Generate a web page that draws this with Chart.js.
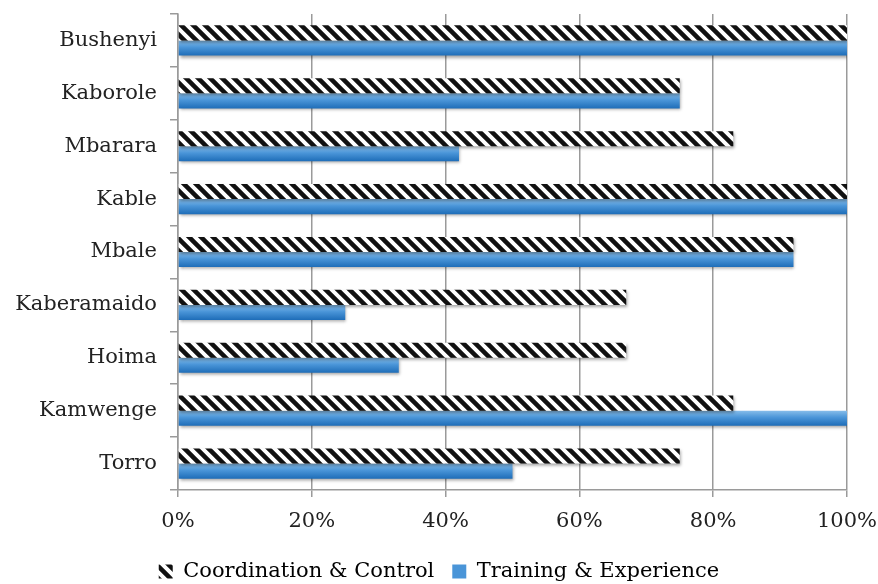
<!DOCTYPE html>
<html>
<head>
<meta charset="utf-8">
<script src="https://cdn.jsdelivr.net/npm/chart.js@4"></script>
<style>
  html, body { margin: 0; padding: 0; background: #fff; }
  #wrap { width: 878px; height: 584px; }
</style>
</head>
<body>
<div id="wrap"><canvas id="grafico"></canvas></div>
<script>
var districts = ['Bushenyi', 'Kaborole', 'Mbarara', 'Kable', 'Mbale', 'Kaberamaido', 'Hoima', 'Kamwenge', 'Torro'];
var coordination = [100, 75, 83, 100, 92, 67, 67, 83, 75];
var training = [100, 75, 42, 100, 92, 25, 33, 100, 50];
var xTicks = [0, 20, 40, 60, 80, 100];

var CAT_PCT = 0.57;
var fuente = "'DejaVu Serif', serif";

// diagonal hatch pattern for Coordination & Control
function crearRayado() {
    var c = document.createElement('canvas');
    c.width = 12; c.height = 12;
    var g = c.getContext('2d');
    g.fillStyle = '#fff';
    g.fillRect(0, 0, 12, 12);
    g.strokeStyle = '#111';
    g.lineWidth = 4.5;
    g.beginPath();
    g.moveTo(-6, -6); g.lineTo(18, 18);
    g.moveTo(-6, 6); g.lineTo(6, 18);
    g.moveTo(6, -6); g.lineTo(18, 6);
    g.stroke();
    return g.createPattern(c, 'repeat');
}

var canvas = document.getElementById('grafico');
var rayado = crearRayado();

function azulGradiente(context) {
    var chart = context.chart;
    var y = chart.scales.y;
    if (!y || context.dataIndex === undefined) return '#3f8bd2';
    var centro = y.getPixelForValue(context.dataIndex);
    var paso = y.getPixelForValue(1) - y.getPixelForValue(0);
    var alto = paso * CAT_PCT / 2;
    var grad = chart.ctx.createLinearGradient(0, centro, 0, centro + alto);
    grad.addColorStop(0, '#86bdea');
    grad.addColorStop(0.45, '#4a95d8');
    grad.addColorStop(1, '#1e6db8');
    return grad;
}

var sombra = {
    id: 'sombra',
    afterInit: function(chart) {
        // fixed legend height so the row sits where the original one does
        var leyenda = chart.legend;
        var fitOriginal = leyenda.fit;
        leyenda.fit = function() {
            fitOriginal.apply(this, arguments);
            this.height = 41;
        };
    },
    beforeDatasetsDraw: function(chart) {
        var ctx = chart.ctx;
        ctx.save();
        ctx.shadowColor = 'rgba(0,0,0,0.35)';
        ctx.shadowBlur = 3;
        ctx.shadowOffsetX = 1;
        ctx.shadowOffsetY = 2;
    },
    afterDatasetsDraw: function(chart) {
        chart.ctx.restore();
    }
};

var grafico = new Chart(canvas.getContext('2d'), {
    type: 'bar',
    data: {
        labels: districts,
        datasets: [{
            label: 'Coordination & Control',
            data: coordination,
            backgroundColor: rayado,
            borderWidth: 0
        }, {
            label: 'Training & Experience',
            data: training,
            backgroundColor: azulGradiente,
            borderWidth: 0
        }]
    },
    options: {
        indexAxis: 'y',
        responsive: true,
        maintainAspectRatio: false,
        animation: false,
        categoryPercentage: CAT_PCT,
        barPercentage: 1,
        layout: { padding: { top: 14, right: 0, left: 0, bottom: 0 } },
        scales: {
            x: {
                min: 0,
                max: 100,
                afterBuildTicks: function(axis) {
                    axis.ticks = xTicks.map(function(v) { return { value: v }; });
                },
                afterFit: function(axis) {
                    axis.paddingRight = 31;
                    axis.paddingLeft = 0;
                    axis.height = 53;
                },
                ticks: {
                    color: '#222',
                    font: { family: fuente, size: 21 },
                    padding: 12,
                    callback: function(v) { return v + '%'; }
                },
                grid: { color: '#9a9a9a', lineWidth: 1.5, tickLength: 7 },
                border: { color: '#9a9a9a', width: 1.5 }
            },
            y: {
                afterFit: function(axis) {
                    axis.width = 178;
                    axis.paddingTop = 0;
                    axis.paddingBottom = 0;
                },
                ticks: {
                    color: '#222',
                    font: { family: fuente, size: 21 },
                    padding: 13
                },
                grid: { drawOnChartArea: false, color: '#9a9a9a', lineWidth: 1.5, tickLength: 8 },
                border: { color: '#9a9a9a', width: 1.5 }
            }
        },
        plugins: {
            tooltip: { enabled: false },
            legend: {
                position: 'bottom',
                labels: {
                    color: '#222',
                    font: { family: fuente, size: 21 },
                    boxWidth: 14,
                    boxHeight: 14,
                    padding: 18,
                    generateLabels: function(chart) {
                        return chart.data.datasets.map(function(ds, i) {
                            return {
                                text: ds.label,
                                fillStyle: i === 0 ? rayado : '#4a95d8',
                                strokeStyle: 'transparent',
                                lineWidth: 0,
                                datasetIndex: i,
                                hidden: false
                            };
                        });
                    }
                }
            }
        }
    },
    plugins: [sombra]
});
</script>
</body>
</html>
